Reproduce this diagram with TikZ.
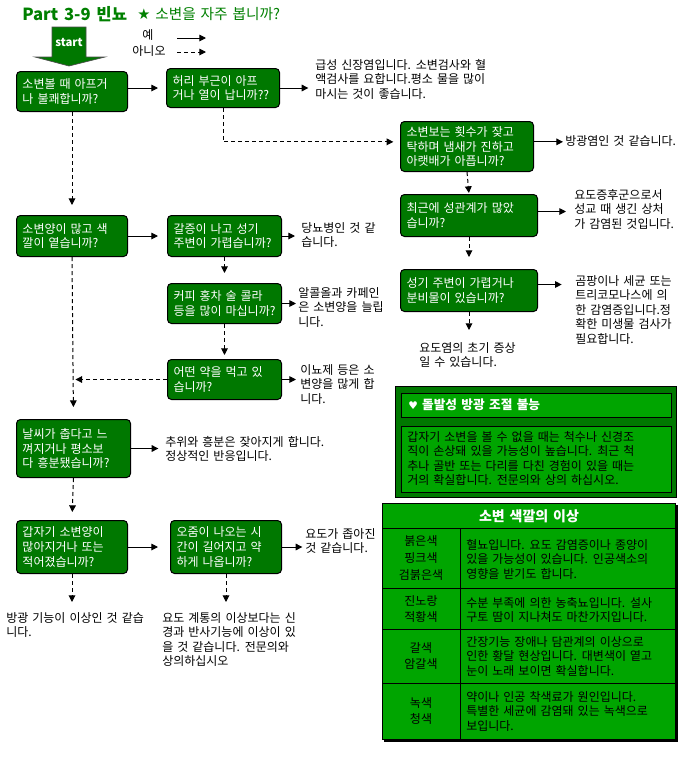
\documentclass[tikz,border=0pt]{standalone}
\usepackage{fontspec}
\newfontfamily\kr[WordSpace=1.5]{Noto Sans CJK KR}
\newfontfamily\dejavu{DejaVu Sans}
\usetikzlibrary{arrows.meta}
\definecolor{dkgreen}{RGB}{0,120,0}
\definecolor{brgreen}{RGB}{0,165,0}
\definecolor{titlegreen}{RGB}{0,128,0}
\tikzset{
  qbox/.style={draw=black, line width=0.75pt, fill=dkgreen, rounded corners=3pt, text=white,
    font=\kr\fontsize{9pt}{10.9pt}\selectfont, align=left, anchor=north west, inner xsep=4.5pt, inner ysep=0pt},
  lbl/.style={font=\kr\fontsize{9pt}{10.9pt}\selectfont, align=left, anchor=north west, inner sep=0pt, text=black},
  yesarr/.style={draw=black, line width=0.75pt, -{Triangle[length=5pt,width=5pt]}},
  noarr/.style={yesarr, dash pattern=on 3pt off 2.25pt},
  cell/.style={font=\kr\fontsize{9pt}{12.5pt}\selectfont, align=center, inner sep=0pt, text=black},
}
\begin{document}
\begin{tikzpicture}[x=0.75pt,y=-0.75pt]
\fill[white] (0,0) rectangle (690,758);
\useasboundingbox (0,0) rectangle (690,758);

% title
\node[anchor=west, inner sep=0pt, text=titlegreen, font=\kr\bfseries\fontsize{12.5pt}{14pt}\selectfont] (title) at (22,14) {Part 3-9 빈뇨};
\node[anchor=west, inner sep=0pt, text=titlegreen, font=\kr\fontsize{11pt}{13pt}\selectfont] (title2) at (137,14) {{\dejavu ★} 소변을 자주 봅니까?};

% start arrow
\filldraw[fill=dkgreen, draw=black!70, line width=0.5pt] (52,27) -- (86,27) -- (86,57) -- (105,57) -- (69,66) -- (35,57) -- (52,57) -- cycle;
\node[text=white, font=\kr\bfseries\fontsize{8.5pt}{10pt}\selectfont, inner sep=0pt] (start) at (69,42) {start};

% legend
\node[lbl, anchor=center] (yes) at (148,35) {예};
\node[lbl, anchor=center] (no) at (149,51) {아니오};
\coordinate (ya) at (177,38); \coordinate (yb) at (206,38);
\coordinate (na) at (177,52); \coordinate (nb) at (206,52);
\draw[yesarr] (ya) -- (yb);
\draw[noarr] (na) -- (nb);

% question boxes
\node[qbox, minimum width=83.25pt, minimum height=30pt, text width=74.25pt] (b1) at (16,71) {\mbox{소변볼 때 아프거}\\\mbox{나 불쾌합니까?}};
\node[qbox, minimum width=84.75pt, minimum height=29.25pt, text width=75.75pt] (b2) at (166,68) {\mbox{허리 부근이 아프}\\\mbox{거나 열이 납니까??}};
\node[qbox, minimum width=99.75pt, minimum height=37.5pt, text width=90.75pt] (b3) at (400,121) {\mbox{소변보는 횟수가 잦고}\\\mbox{탁하며 냄새가 진하고}\\\mbox{아랫배가 아픕니까?}};
\node[qbox, minimum width=102.75pt, minimum height=31.5pt, text width=93.75pt] (b4) at (400,194) {\mbox{최근에 성관계가 많았}\\\mbox{습니까?}};
\node[qbox, minimum width=102.75pt, minimum height=31.5pt, text width=93.75pt] (b5) at (400,269) {\mbox{성기 주변이 가렵거나}\\\mbox{분비물이 있습니까?}};
\node[qbox, minimum width=83.25pt, minimum height=30.75pt, text width=74.25pt] (b6) at (16,215) {\mbox{소변양이 많고 색}\\\mbox{깔이 옅습니까?}};
\node[qbox, minimum width=85.5pt, minimum height=30.75pt, text width=76.5pt] (b7) at (167,215) {\mbox{갈증이 나고 성기}\\\mbox{주변이 가렵습니까?}};
\node[qbox, minimum width=85.5pt, minimum height=30pt, text width=76.5pt] (b8) at (167,283) {\mbox{커피 홍차 술 콜라}\\\mbox{등을 많이 마십니까?}};
\node[qbox, minimum width=85.5pt, minimum height=30pt, text width=76.5pt] (b9) at (167,359) {\mbox{어떤 약을 먹고 있}\\\mbox{습니까?}};
\node[qbox, minimum width=85.5pt, minimum height=43.5pt, text width=76.5pt] (b10) at (16,419) {\mbox{날씨가 춥다고 느}\\\mbox{껴지거나 평소보}\\\mbox{다 흥분됐습니까?}};
\node[qbox, minimum width=83.25pt, minimum height=39.75pt, text width=74.25pt] (b11) at (16,520) {\mbox{갑자기 소변양이}\\\mbox{많아지거나 또는}\\\mbox{적어졌습니까?}};
\node[qbox, minimum width=83.25pt, minimum height=39.75pt, text width=74.25pt] (b12) at (170,520) {\mbox{오줌이 나오는 시}\\\mbox{간이 길어지고 약}\\\mbox{하게 나옵니까?}};

% answer texts
\node[lbl] (t1) at (315,59) {급성 신장염입니다. 소변검사와 혈\\액검사를 요합니다.평소 물을 많이\\마시는 것이 좋습니다.};
\node[lbl, anchor=west] (tbang) at (565,141) {방광염인 것 같습니다.};
\node[lbl] (tyodo) at (574,189) {요도증후군으로서\\성교 때 생긴 상처\\가 감염된 것입니다.};
\node[lbl] (tgom) at (575,275) {곰팡이나 세균 또는\\트리코모나스에 의\\한 감염증입니다.정\\확한 미생물 검사가\\필요합니다.};
\node[lbl] (tyy) at (419,342) {요도염의 초기 증상\\일 수 있습니다.};
\node[lbl] (tdang) at (301,222) {당뇨병인 것 같\\습니다.};
\node[lbl] (tal) at (298,287) {알콜올과 카페인\\은 소변양을 늘립\\니다.};
\node[lbl] (tinyo) at (300,364) {이뇨제 등은 소\\변양을 많게 합\\니다.};
\node[lbl] (tchu) at (165,436) {추위와 흥분은 잦아지게 합니다.\\정상적인 반응입니다.};
\node[lbl] (tyododo) at (305,528) {요도가 좁아진\\것 같습니다.};
\node[lbl] (tb2) at (6,612) {방광 기능이 이상인 것 같습\\니다.};
\node[lbl] (tyg) at (162,612) {요도 계통의 이상보다는 신\\경과 반사기능에 이상이 있\\을 것 같습니다. 전문의와\\상의하십시오};

% connectors
\draw[yesarr, shorten >=6pt] (b2.west -| b1.east) -- (b2.west);
\draw[yesarr, shorten >=5pt] (b2.east) -- (b2.east -| t1.west);
\draw[noarr, shorten >=5pt] (b2.south) |- ([yshift=3.5pt]b3.west);
\draw[yesarr, shorten >=1.5pt] ([yshift=3.5pt]b3.east) -- ([yshift=3.5pt]b3.east -| tbang.west);
\draw[noarr, shorten >=0.75pt] (b3.south) -- (b4.north);
\draw[yesarr, shorten >=6pt] ([yshift=3pt]b4.east) -- ([yshift=3pt]b4.east -| tyodo.west);
\draw[noarr, shorten >=9pt] (b4.south) -- (b5.north);
\draw[yesarr, shorten >=10pt] ([yshift=4.5pt]b5.east) -- ([yshift=4.5pt]b5.east -| tgom.west);
\draw[noarr, shorten >=9pt] (b5.south) -- (b5.south |- tyy.north);
\draw[noarr, shorten >=7.5pt] (b1.south) -- (b6.north);
\draw[yesarr, shorten >=6.75pt] (b6.east) -- (b7.west);
\draw[yesarr, shorten >=4.5pt] (b7.east) -- (b7.east -| tdang.west);
\draw[noarr, shorten >=7.5pt] (b7.south) -- (b8.north);
\draw[yesarr, shorten >=1.5pt] (b8.east) -- (b8.east -| tal.west);
\draw[noarr, shorten >=3pt] (b8.south) -- (b9.north);
\draw[noarr, shorten >=2.6pt] (b9.west) -- (b9.west -| b6.south);
\draw[yesarr, shorten >=3pt] (b9.east) -- (b9.east -| tinyo.west);
\draw[noarr, shorten >=9pt] (b6.south) -- (b10.north);
\draw[yesarr, shorten >=5pt] (b10.east) -- (b10.east -| tchu.west);
\draw[noarr, shorten >=6pt] (b10.south) -- (b11.north);
\draw[yesarr, shorten >=9pt] (b11.east) -- (b12.west);
\draw[yesarr, shorten >=2pt] (b12.east) -- (b12.east -| tyododo.west);
\draw[noarr, shorten >=7.5pt] (b11.south) -- (b11.south |- tb2.north);
\draw[noarr, shorten >=7.5pt] (b12.south) -- (b12.south |- tyg.north);

% panel 1
\filldraw[fill=dkgreen, draw=black, line width=0.75pt] (395,386) rectangle (676,497);
\filldraw[fill=brgreen, draw=black, line width=0.75pt] (401,393) rectangle (671,417);
\filldraw[fill=brgreen, draw=black, line width=0.75pt] (401,426) rectangle (671,492);
\node[anchor=west, inner sep=0pt, text=white, font=\kr\bfseries\fontsize{9.5pt}{11pt}\selectfont] (p1title) at (408,405) {{\dejavu\fontsize{8pt}{10pt}\selectfont ♥} 돌발성 방광 조절 불능};
\node[lbl] (p1body) at (407,431) {갑자기 소변을 볼 수 없을 때는 척수나 신경조\\직이 손상돼 있을 가능성이 높습니다. 최근 척\\추나 골반 또는 다리를 다친 경험이 있을 때는\\거의 확실합니다. 전문의와 상의 하십시오.};

% table
\fill[black] (384,505) rectangle (677.5,741.5);
\filldraw[fill=brgreen, draw=black, line width=0.75pt] (382,503) rectangle (675,739);
\draw[line width=0.75pt] (382,528) -- (675,528);
\draw[line width=0.75pt] (460,528) -- (460,739);
\draw[line width=0.75pt] (382,588) -- (675,588);
\draw[line width=0.75pt] (382,629) -- (675,629);
\draw[line width=0.75pt] (382,683) -- (675,683);
\node[inner sep=0pt, text=white, font=\kr\bfseries\fontsize{10.5pt}{12pt}\selectfont] (thead) at (529,516) {소변 색깔의 이상};
\node[cell] (c1) at (421,558) {붉은색\\핑크색\\검붉은색};
\node[cell] (c2) at (421,609) {진노랑\\적황색};
\node[cell] (c3) at (421,656) {갈색\\암갈색};
\node[cell] (c4) at (421,711) {녹색\\청색};
\node[lbl] (r1) at (466,539) {혈뇨입니다. 요도 감염증이나 종양이\\있을 가능성이 있습니다. 인공색소의\\영향을 받기도 합니다.};
\node[lbl] (r2) at (466,597) {수분 부족에 의한 농축뇨입니다. 설사\\구토 땀이 지나쳐도 마찬가지입니다.};
\node[lbl] (r3) at (466,636) {간장기능 장애나 담관계의 이상으로\\인한 황달 현상입니다. 대변색이 옅고\\눈이 노래 보이면 확실합니다.};
\node[lbl] (r4) at (466,691) {약이나 인공 착색료가 원인입니다.\\특별한 세균에 감염돼 있는 녹색으로\\보입니다.};
\end{tikzpicture}
\end{document}
